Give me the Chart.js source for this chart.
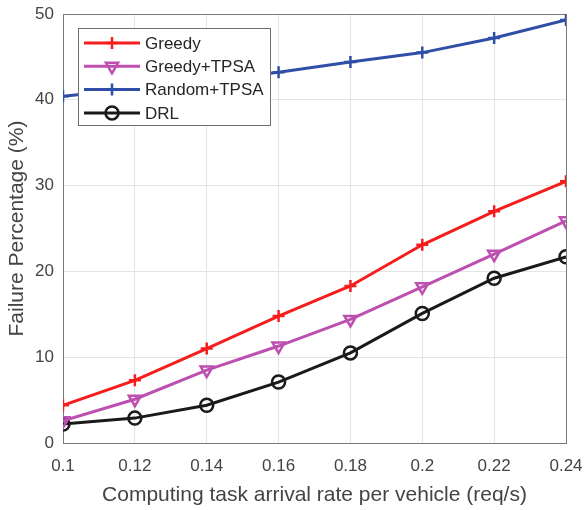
<!DOCTYPE html>
<html>
<head>
<meta charset="utf-8">
<script src="https://cdn.jsdelivr.net/npm/chart.js@4.4.1/dist/chart.umd.min.js"></script>
<style>
  body { margin: 0; background: #fff; }
  #wrap { width: 585px; height: 510px; }
</style>
</head>
<body>
<div id="wrap"><canvas id="failChart" width="585" height="510"></canvas></div>
<script>
// Failure percentage vs. task arrival rate

const arrivalRates = [0.1, 0.12, 0.14, 0.16, 0.18, 0.2, 0.22, 0.24];
const yTicks = [0, 10, 20, 30, 40, 50];

const greedy      = [4.4, 7.3, 11.0, 14.8, 18.3, 23.1, 27.0, 30.5];
const greedyTpsa  = [2.6, 5.1, 8.5, 11.3, 14.4, 18.2, 22.0, 25.9];
const randomTpsa  = [40.4, 41.3, 42.2, 43.2, 44.4, 45.5, 47.2, 49.3];
const drl         = [2.2, 2.9, 4.4, 7.1, 10.5, 15.1, 19.2, 21.7];

const seriesNames = ["Greedy", "Greedy+TPSA", "Random+TPSA", "DRL"];

const FONT = "'Liberation Sans', Arial, sans-serif";
const TXT = "#444444";

function pts(values) {
    return values.map((v, i) => ({ x: arrivalRates[i], y: v }));
}

function series(label, values, color, style, radius, rotation) {
    return {
        label: label,
        data: pts(values),
        borderColor: color,
        backgroundColor: "rgba(0,0,0,0)",
        borderWidth: 3,
        pointStyle: style,
        pointRadius: radius,
        pointRotation: rotation || 0,
        pointBorderColor: color,
        pointBackgroundColor: "rgba(0,0,0,0)",
        pointBorderWidth: 2.5,
        tension: 0
    };
}

// legend drawn inside the plot, matlab style
const boxLegend = {
    id: "boxLegend",
    afterDraw(chart) {
        const ctx = chart.ctx;
        const x0 = 78, y0 = 28, w = 192, h = 97;
        ctx.save();
        ctx.fillStyle = "#fff";
        ctx.fillRect(x0, y0, w, h);
        ctx.strokeStyle = "#6e6e6e";
        ctx.lineWidth = 1;
        ctx.strokeRect(x0 + 0.5, y0 + 0.5, w, h);
        ctx.font = "17px " + FONT;
        ctx.textBaseline = "middle";
        chart.data.datasets.forEach((ds, i) => {
            const y = 43 + i * 23.3;
            ctx.strokeStyle = ds.borderColor;
            ctx.lineWidth = 3;
            ctx.beginPath();
            ctx.moveTo(84, y);
            ctx.lineTo(140, y);
            ctx.stroke();
            ctx.lineWidth = ds.pointBorderWidth;
            ctx.fillStyle = ds.pointBackgroundColor;
            Chart.helpers.drawPoint(ctx, {
                pointStyle: ds.pointStyle,
                rotation: ds.pointRotation,
                radius: ds.pointRadius,
                borderWidth: ds.pointBorderWidth
            }, 112, y);
            ctx.fillStyle = "#262626";
            ctx.fillText(ds.label, 145, y + 1);
        });
        ctx.restore();
    }
};

// box around the plot area
const frame = {
    id: "frame",
    beforeDatasetsDraw(chart) {
        const a = chart.chartArea;
        const ctx = chart.ctx;
        ctx.save();
        ctx.strokeStyle = "#7a7a7a";
        ctx.lineWidth = 1;
        ctx.strokeRect(a.left + 0.5, a.top + 0.5, a.right - a.left, a.bottom - a.top);
        ctx.restore();
    }
};

new Chart(document.getElementById("failChart").getContext("2d"), {
    type: "line",
    data: {
        datasets: [
            series(seriesNames[0], greedy, "#f51d1d", "cross", 6),
            series(seriesNames[1], greedyTpsa, "#bd4fb0", "triangle", 7, 180),
            series(seriesNames[2], randomTpsa, "#2f4ea8", "cross", 6),
            series(seriesNames[3], drl, "#1a1a1a", "circle", 6.5)
        ]
    },
    options: {
        responsive: false,
        animation: false,
        layout: { padding: { left: 0, right: 19, top: 14, bottom: 0 } },
        scales: {
            x: {
                type: "linear",
                min: arrivalRates[0],
                max: arrivalRates[arrivalRates.length - 1],
                afterBuildTicks(scale) {
                    scale.ticks = arrivalRates.map(v => ({ value: v }));
                },
                afterFit(scale) {
                    scale.height = 67;
                    scale.paddingLeft = 0;
                    scale.paddingRight = 0;
                },
                ticks: {
                    callback: v => String(parseFloat(v.toFixed(2))),
                    color: TXT,
                    font: { family: FONT, size: 17 },
                    padding: 13,
                    maxRotation: 0
                },
                grid: { color: "#e4e4e4", drawTicks: false },
                border: { display: false },
                title: {
                    display: true,
                    text: "Computing task arrival rate per vehicle (req/s)",
                    color: TXT,
                    font: { family: FONT, size: 21 },
                    padding: { top: 0, bottom: 2 }
                }
            },
            y: {
                min: 0,
                max: 50,
                afterBuildTicks(scale) {
                    scale.ticks = yTicks.map(v => ({ value: v }));
                },
                afterFit(scale) {
                    scale.width = 63;
                    scale.paddingTop = 0;
                    scale.paddingBottom = 0;
                },
                ticks: {
                    color: TXT,
                    font: { family: FONT, size: 17 },
                    padding: 9
                },
                grid: { color: "#e4e4e4", drawTicks: false },
                border: { display: false },
                title: {
                    display: true,
                    text: "Failure Percentage (%)",
                    color: TXT,
                    font: { family: FONT, size: 21 },
                    padding: { top: 5, bottom: 0 }
                }
            }
        },
        plugins: {
            legend: { display: false },
            tooltip: { enabled: false }
        }
    },
    plugins: [frame, boxLegend]
});
</script>
</body>
</html>
